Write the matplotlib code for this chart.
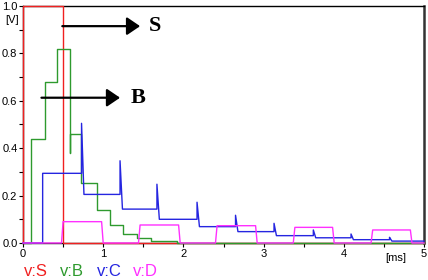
import matplotlib.pyplot as plt
import numpy as np

# step waveforms (time in ms, value in V)
t_S = [0, 0, 0.5, 0.5, 5]
v_S = [0, 1.0, 1.0, 0, 0]

t_B = [0, 0.1, 0.1, 0.27, 0.27, 0.43, 0.43, 0.59, 0.59, 0.59, 0.72, 0.72,
       0.92, 0.92, 1.08, 1.08, 1.25, 1.25, 1.42, 1.42, 1.6, 1.6, 1.92, 1.92, 5]
v_B = [0, 0, 0.44, 0.44, 0.68, 0.68, 0.82, 0.82, 0.38, 0.46, 0.46, 0.255,
       0.255, 0.14, 0.14, 0.076, 0.076, 0.038, 0.038, 0.02, 0.02, 0.01, 0.01, 0.0, 0]

t_C = [0, 0.245, 0.245, 0.73, 0.73, 0.76, 1.21, 1.21, 1.24, 1.67, 1.67, 1.70,
       2.17, 2.17, 2.20, 2.65, 2.65, 2.68, 3.13, 3.13, 3.16, 3.62, 3.62, 3.65,
       4.09, 4.09, 4.12, 4.57, 4.57, 4.60, 5]
v_C = [0, 0, 0.294, 0.294, 0.505, 0.205, 0.205, 0.347, 0.143, 0.143, 0.248, 0.1,
       0.1, 0.172, 0.069, 0.069, 0.117, 0.048, 0.048, 0.083, 0.031, 0.031, 0.055, 0.022,
       0.022, 0.038, 0.014, 0.014, 0.024, 0.008, 0.008]

t_D = [0, 0.48, 0.50, 0.98, 1.0, 1.44, 1.46, 1.94, 1.96, 2.40, 2.42, 2.90, 2.92,
       3.37, 3.39, 3.86, 3.88, 4.34, 4.36, 4.83, 4.85, 5]
v_D = [0, 0, 0.09, 0.09, 0, 0, 0.076, 0.076, 0, 0, 0.073, 0.073, 0,
       0, 0.066, 0.066, 0, 0, 0.055, 0.055, 0, 0]

names = ['v:S', 'v:B', 'v:C', 'v:D']
colors = ['#f02020', '#2e9a2e', '#2525e0', '#ff30ff']

plt.rcParams['font.family'] = ['Liberation Sans', 'DejaVu Sans']

fig = plt.figure(figsize=(4.28, 2.80), dpi=100)
ax = fig.add_axes([23/428, 37/280, 401/428, 237/280])

series = [(t_S, v_S), (t_B, v_B), (t_C, v_C), (t_D, v_D)]
for (t, v), c in zip(series, colors):
    ax.plot(t, v, color=c, lw=1.0, clip_on=False, zorder=3)

ax.set_xlim(0, 5)
ax.set_ylim(0, 1.0)

ax.set_xticks(np.arange(0, 6, 1))
ax.set_xticks(np.arange(0.5, 5, 1), minor=True)
ax.set_yticks(np.arange(0, 1.01, 0.2))
ax.set_yticks(np.arange(0.1, 1.0, 0.2), minor=True)
ax.set_yticklabels(['0.0', '0.2', '0.4', '0.6', '0.8', '1.0'])
ax.tick_params(which='both', direction='out', length=3, width=0.8, labelsize=8, pad=1)

for s in ['top', 'left', 'bottom']:
    ax.spines[s].set_linewidth(1.0)
ax.spines['right'].set_linewidth(1.8)
ax.spines['right'].set_color('#333333')

# arrows with labels
head = '-|>,head_length=0.5,head_width=0.34'
ax.annotate('', xy=(1.46, 0.915), xytext=(0.49, 0.915),
            arrowprops=dict(arrowstyle=head, lw=1.6, mutation_scale=16, color='black',
                            shrinkA=0, shrinkB=0))
ax.text(1.57, 0.915, 'S', fontsize=16, fontweight='bold', family='Liberation Serif',
        va='center', ha='left')
ax.annotate('', xy=(1.21, 0.613), xytext=(0.23, 0.613),
            arrowprops=dict(arrowstyle=head, lw=1.6, mutation_scale=16, color='black',
                            shrinkA=0, shrinkB=0))
ax.text(1.34, 0.613, 'B', fontsize=16, fontweight='bold', family='Liberation Serif',
        va='center', ha='left')

fig.text(12/428, 1 - 20/280, '[V]', fontsize=8, ha='center', va='center')
fig.text(396/428, 1 - 258/280, '[ms]', fontsize=8, ha='center', va='center')

xs = [24, 60, 97, 133]
for x, n, c in zip(xs, names, colors):
    fig.text(x/428, 1 - 272/280, n, color=c, fontsize=12, ha='left', va='center')

fig.savefig('out.png', dpi=100)
